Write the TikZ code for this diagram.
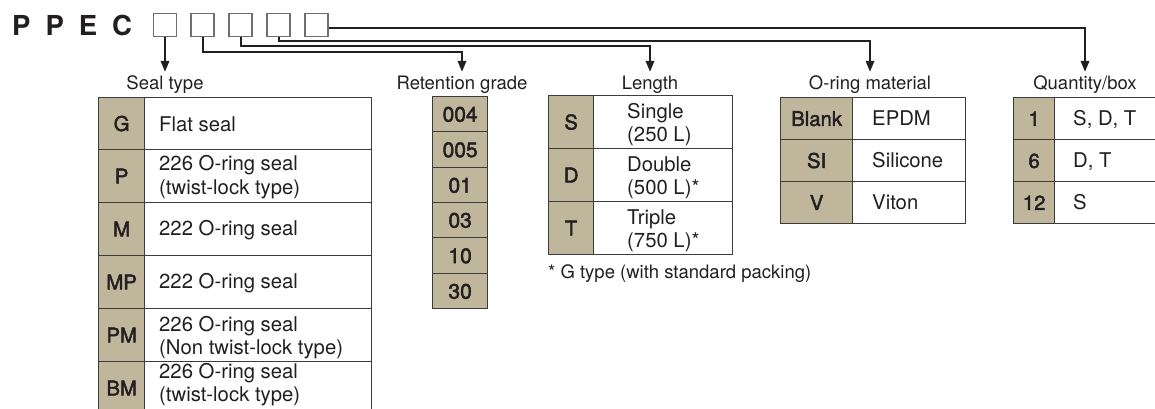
\documentclass[tikz,border=0pt]{standalone}
\usepackage{fontspec}
\setmainfont{TeX Gyre Heros}
\newfontfamily\medfont{TeX Gyre Heros}[FakeBold=2.2]
\usetikzlibrary{arrows.meta}
\definecolor{tanc}{RGB}{191,182,156}
\definecolor{bc}{RGB}{60,60,60}
\definecolor{txt}{RGB}{35,31,32}
\definecolor{boxc}{RGB}{110,110,110}
\newcommand\fdesc{\fontsize{20.3}{23.5}\selectfont}
\newcommand\fcode{\medfont\fontsize{20.3}{24}\selectfont}
\newcommand\fret{\medfont\fontsize{21}{24}\selectfont}
\newcommand\fhead{\fontsize{18.5}{22}\selectfont}
\newcommand\ftop{\fontsize{27.5}{30}\selectfont\bfseries}
\newcommand\twol[2]{\begin{tabular}[t]{@{}l@{}}#1\\#2\end{tabular}}
\begin{document}
\begin{tikzpicture}[x=1pt,y=-1pt,
  cellc/.style={draw=bc, fill=tanc, line width=1.3pt, inner sep=0pt, anchor=north west, font=\fcode, text=txt, text height=14.6pt, text depth=0pt},
  celld/.style={draw=bc, fill=white, line width=1.3pt, inner sep=0pt, anchor=north west},
  dtxt/.style={anchor=base west, inner sep=0pt, font=\fdesc, text=txt},
  head/.style={anchor=base, inner xsep=0pt, inner ysep=4pt, text height=13pt, text depth=0pt, font=\fhead, text=txt},
  sbox/.style={draw=boxc, line width=1.2pt, fill=white, minimum width=23pt, minimum height=22.5pt, inner sep=0pt},
  conn/.style={draw=txt, line width=2pt, -{Triangle[length=11pt,width=8.5pt]}}
]
\useasboundingbox (0,0) rectangle (1155,408);
\clip (0,0) rectangle (1155,408);

% title
\node[anchor=base west, inner sep=0pt, font=\ftop, text=txt] (ppec) at (12,35) {P\hspace{15pt}P\hspace{15pt}E\hspace{15pt}C};
\node[sbox] (b1) at (165,25) {};
\node[sbox] (b2) at (202.5,25) {};
\node[sbox] (b3) at (240.5,25) {};
\node[sbox] (b4) at (278.5,25) {};
\node[sbox] (b5) at (316.5,25) {};

% headers
\node[head] (hSeal) at (165,89) {Seal type};
\node[head] (hRet) at (462,89) {Retention grade};
\node[head] (hLen) at (650,89) {Length};
\node[head] (hOr) at (870,89) {O-ring material};
\node[head] (hQty) at (1085,89) {Quantity/box};

% connectors
\draw[conn] (b1.south) -- (hSeal.north);
\draw[conn] (b2.south) -- ([yshift=-15pt]b2.south) -| (hRet.north);
\draw[conn] (b3.south) -- ([yshift=-9pt]b3.south) -| (hLen.north);
\draw[conn] (b4.south) -- ([yshift=-4.5pt]b4.south) -| (hOr.north);
\draw[conn] ([yshift=-3pt]b5.east) -| (hQty.north);

% seal type table
\node[cellc, minimum width=46pt, minimum height=52pt] (sc1) at (98,97) {G};
\node[celld, minimum width=227pt, minimum height=52pt] (sd1) at (144,97) {};
\node[dtxt] (st1) at (159,131) {Flat seal};
\node[cellc, minimum width=46pt, minimum height=53pt] (sc2) at (98,149) {P};
\node[celld, minimum width=227pt, minimum height=53pt] (sd2) at (144,149) {};
\node[dtxt] (st2) at (159,170.5) {\twol{226 O-ring seal}{(twist-lock type)}};
\node[cellc, minimum width=46pt, minimum height=53pt] (sc3) at (98,202) {M};
\node[celld, minimum width=227pt, minimum height=53pt] (sd3) at (144,202) {};
\node[dtxt] (st3) at (159,235.8) {222 O-ring seal};
\node[cellc, minimum width=46pt, minimum height=53pt] (sc4) at (98,255) {MP};
\node[celld, minimum width=227pt, minimum height=53pt] (sd4) at (144,255) {};
\node[dtxt] (st4) at (159,288.8) {222 O-ring seal};
\node[cellc, minimum width=46pt, minimum height=53pt] (sc5) at (98,308) {PM};
\node[celld, minimum width=227pt, minimum height=53pt] (sd5) at (144,308) {};
\node[dtxt] (st5) at (159,331) {\twol{226 O-ring seal}{(Non twist-lock type)}};
\node[cellc, minimum width=46pt, minimum height=53pt] (sc6) at (98,361) {BM};
\node[celld, minimum width=227pt, minimum height=53pt] (sd6) at (144,361) {};
\node[dtxt] (st6) at (159,378.3) {\twol{226 O-ring seal}{(twist-lock type)}};

% retention grade
\node[cellc, font=\fret, text height=15pt, minimum width=55pt, minimum height=35pt] (rc1) at (432,96) {004};
\node[cellc, font=\fret, text height=15pt, minimum width=55pt, minimum height=36pt] (rc2) at (432,131) {005};
\node[cellc, font=\fret, text height=15pt, minimum width=55pt, minimum height=35pt] (rc3) at (432,167) {01};
\node[cellc, font=\fret, text height=15pt, minimum width=55pt, minimum height=35pt] (rc4) at (432,202) {03};
\node[cellc, font=\fret, text height=15pt, minimum width=55pt, minimum height=36pt] (rc5) at (432,237) {10};
\node[cellc, font=\fret, text height=15pt, minimum width=55pt, minimum height=35pt] (rc6) at (432,273) {30};

% length
\node[cellc, minimum width=45pt, minimum height=53pt] (lc1) at (548,95) {S};
\node[celld, minimum width=139pt, minimum height=53pt] (ld1) at (593,95) {};
\node[dtxt] (lt1) at (627,118) {\twol{Single}{(250 L)}};
\node[cellc, minimum width=45pt, minimum height=53pt] (lc2) at (548,148) {D};
\node[celld, minimum width=139pt, minimum height=53pt] (ld2) at (593,148) {};
\node[dtxt] (lt2) at (627,171) {\twol{Double}{(500 L)*}};
\node[cellc, minimum width=45pt, minimum height=53pt] (lc3) at (548,201) {T};
\node[celld, minimum width=139pt, minimum height=53pt] (ld3) at (593,201) {};
\node[dtxt] (lt3) at (627,224) {\twol{Triple}{(750 L)*}};
\node[anchor=base west, inner sep=0pt, font=\fhead, text=txt] (fn) at (548,278) {* G type (with standard packing)};

% O-ring material
\node[cellc, minimum width=72pt, minimum height=42pt] (oc1) at (780,97) {Blank};
\node[celld, minimum width=113pt, minimum height=42pt] (od1) at (852,97) {};
\node[dtxt] (ot1) at (872,125.3) {EPDM};
\node[cellc, minimum width=72pt, minimum height=42pt] (oc2) at (780,139) {SI};
\node[celld, minimum width=113pt, minimum height=42pt] (od2) at (852,139) {};
\node[dtxt] (ot2) at (872,167.3) {Silicone};
\node[cellc, minimum width=72pt, minimum height=42pt] (oc3) at (780,181) {V};
\node[celld, minimum width=113pt, minimum height=42pt] (od3) at (852,181) {};
\node[dtxt] (ot3) at (872,209.3) {Viton};

% quantity/box
\node[cellc, minimum width=41pt, minimum height=42pt] (qc1) at (1013,97) {1};
\node[celld, minimum width=120pt, minimum height=42pt] (qd1) at (1054,97) {};
\node[dtxt] (qt1) at (1073,125.3) {S, D, T};
\node[cellc, minimum width=41pt, minimum height=42pt] (qc2) at (1013,139) {6};
\node[celld, minimum width=120pt, minimum height=42pt] (qd2) at (1054,139) {};
\node[dtxt] (qt2) at (1073,167.3) {D, T};
\node[cellc, minimum width=41pt, minimum height=42pt] (qc3) at (1013,181) {12};
\node[celld, minimum width=120pt, minimum height=42pt] (qd3) at (1054,181) {};
\node[dtxt] (qt3) at (1073,209.3) {S};
\end{tikzpicture}
\end{document}
